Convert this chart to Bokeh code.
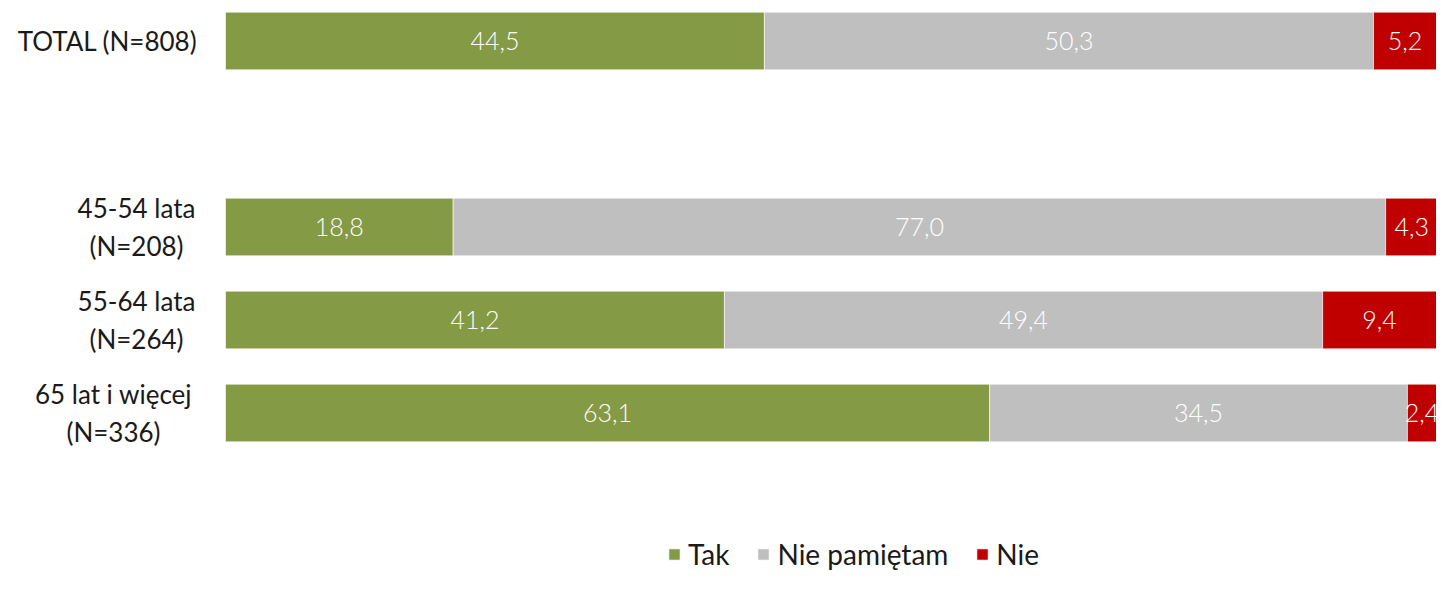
from bokeh.plotting import figure
from bokeh.models import ColumnDataSource, Range1d, Legend, LegendItem
from bokeh.core.properties import value
from bokeh.embed import file_html
from bokeh.resources import INLINE

categories = ["TOTAL (N=808)", "45-54 lata\n(N=208)", "55-64 lata\n(N=264)", "65 lat i więcej\n(N=336)"]
tak = [44.5, 18.8, 41.2, 63.1]
nie_pamietam = [50.3, 77.0, 49.4, 34.5]
nie = [5.2, 4.3, 9.4, 2.4]
series_names = ["Tak", "Nie pamiętam", "Nie"]
colors = ["#849A45", "#BFBFBF", "#C00000"]

FONT = "Lato"
VALUE_FONT = "'Lato Light', Lato"

# layout constants (pixels)
W, H = 1436, 574
BAR_LEFT_PX = 225          # where 0 % sits
ROW_PX = 93                # distance between rows
FIRST_ROW_PX = 40.5        # centre of first row from top
# horizontal centre of each category label block (px from left edge)
label_centre_px = [107, 136, 136, 113]

# one empty slot after TOTAL
ypos = [i + (1 if i > 0 else 0) for i in range(len(categories))]

px_per_unit = (W - BAR_LEFT_PX) / 100.0
x_start = -BAR_LEFT_PX / px_per_unit
y_top = -FIRST_ROW_PX / ROW_PX
y_bottom = y_top + H / ROW_PX

p = figure(width=W, height=H, output_backend="svg", toolbar_location=None,
           x_range=Range1d(x_start, 100), y_range=Range1d(y_bottom, y_top),
           x_axis_location=None, y_axis_location=None,
           min_border_left=0, min_border_right=0,
           min_border_top=0, min_border_bottom=0)
p.outline_line_color = None
p.grid.visible = False
p.background_fill_color = "white"
p.border_fill_color = "white"

series = [tak, nie_pamietam, nie]
left = [0.0] * len(categories)
renderers = []
for name, vals, col in zip(series_names, series, colors):
    right = [l + v for l, v in zip(left, vals)]
    src = ColumnDataSource(dict(
        y=ypos, left=left, right=right,
        mid=[(l + r) / 2 for l, r in zip(left, right)],
        lab=[f"{v:.1f}".replace(".", ",") for v in vals]))
    r = p.hbar(y="y", left="left", right="right", height=0.62, source=src,
               fill_color=col, line_color="white", line_alpha=0.6, line_width=1)
    renderers.append((name, r))
    p.text(x="mid", y="y", text="lab", source=src, text_align="center",
           text_baseline="middle", text_color="white", text_font=value(VALUE_FONT),
           text_font_size="25px")
    left = right

# category labels (lines centred within a right-aligned block)
cat_src = ColumnDataSource(dict(
    x=[0.0] * len(categories), y=ypos, text=categories,
    dx=[c - BAR_LEFT_PX for c in label_centre_px]))
p.text(x="x", y="y", text="text", x_offset="dx", source=cat_src,
       text_align="center", text_baseline="middle", text_color="#1a1a1a",
       text_font=value(FONT), text_font_size="26px", text_line_height=1.2)

legend = Legend(items=[LegendItem(label=n, renderers=[r]) for n, r in renderers],
                orientation="horizontal", location=(667, 3),
                border_line_color=None, background_fill_alpha=0,
                padding=0, margin=0, spacing=27, label_standoff=7,
                glyph_width=14, glyph_height=14,
                label_text_font=FONT, label_text_font_size="28px",
                label_text_color="#1a1a1a")
p.add_layout(legend, "center")

open("out.html", "w").write(file_html(p, INLINE))
